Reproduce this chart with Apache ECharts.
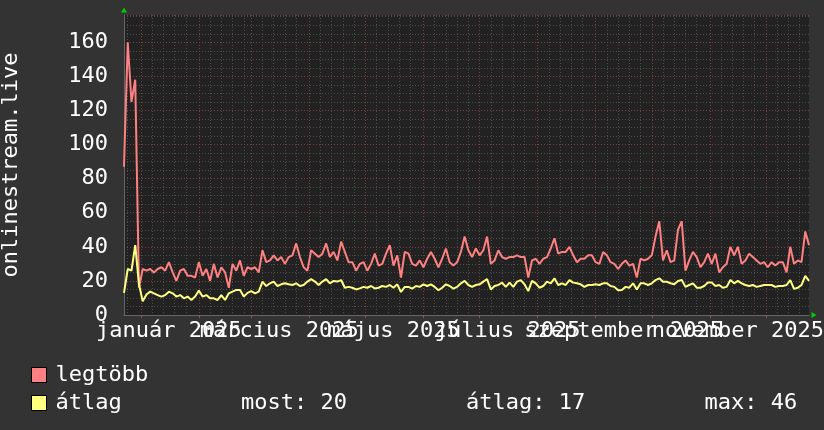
<!DOCTYPE html>
<html><head><meta charset="utf-8">
<script src="https://cdn.jsdelivr.net/npm/echarts@6/dist/echarts.min.js"></script>
<style>html,body{margin:0;padding:0;background:#333333;}#c{width:824px;height:430px;}</style>
</head><body><div id="c"></div>
<script>
// ---- data ----
const firstDay = [2024, 11, 23];   // 2024-12-23 (left edge)
const dayCount = 367;              // through 2025-12-24
const stepDays = 2;                // one reading every 2 days
const monthNames = ['január','február','március','április','május','június','július','augusztus','szeptember','október','november','december'];
const labelMonthsA = [0, 4, 8];    // január, május, szeptember
const labelMonthsB = [2, 6, 10];   // március, július, november
const seriesNames = ['legtöbb', 'átlag'];
const yAxisTitle = 'onlinestream.live';
const yMax = 176;
const yMajorStep = 20;
const yMinorStep = 5;
const minorGridDays = [7, 13, 19, 25];
const statMost = 20, statAtlag = 17, statMax = 46;

const legtobb = [
  87,160,125,138,16,27,26,27,25,27,
  28,26,31,25,20,26,27,23,23,22,
  31,23,27,20,30,22,28,25,16,30,
  26,32,23,28,27,28,25,38,31,32,
  35,32,34,30,34,35,42,34,28,26,
  38,36,34,36,42,34,37,32,43,37,
  31,31,26,30,31,26,30,36,29,30,
  36,41,29,35,22,37,36,30,29,32,
  28,33,37,33,28,33,39,31,29,31,
  37,46,38,34,39,35,38,46,30,32,
  38,34,33,34,34,35,34,34,22,32,
  33,30,33,34,39,45,36,37,37,40,
  35,31,33,33,35,35,31,30,37,35,
  31,30,27,30,32,29,30,22,33,32,
  33,35,46,55,32,38,31,32,50,55,
  26,32,37,34,28,31,36,30,36,25,
  28,30,40,35,40,30,32,36,34,32,
  30,31,28,31,29,31,31,25,40,30,
  32,31,49,41
];
const atlag = [
  13,27,26,41,18,8,12,13.7,12.7,11.7,
  10.8,11.7,13.7,12.7,10.8,11.7,9.8,10.8,8.8,10.8,
  14.3,10.8,11.7,9.8,9.8,8.8,11.7,8.8,12.7,13.7,
  14.7,14.7,10.8,13,14,12.7,13.7,19.6,17,18.6,
  19.6,17,18,18.6,18,17.6,18.6,17,17.6,19.6,
  21,19.6,17.6,19.6,21,18.6,20,19.6,20.5,16,
  16.5,16,15,15.6,16.5,16,17,15.6,16,17,
  16.5,17.6,16,18,13.5,16.5,16.5,15.5,17,16.5,
  18,17,18,16.5,14.5,16,18,17,15.5,16.5,
  18.6,20,17.6,16.5,17.6,18,19.6,21,15,17,
  17.6,19,16.5,19,16.5,19.6,20.5,18,14,20,
  18.6,16,17,19.6,18.6,21.5,17.6,18.6,17.6,20.5,
  19,18.6,18,16.5,17.6,17.6,18,17.6,18.6,18.6,
  17,16.5,14.5,14.7,16.5,16,18.6,15,18.6,18.6,
  17.6,18.6,20.5,21.5,19.5,19.5,18.6,18,20,20.5,
  16.5,17.6,18.6,16,16,17,19,19,17,17.6,
  16,16.5,20.5,18.6,20,18.6,17.6,17,17.6,16.5,
  17,17.6,17.6,17.6,16.5,17,17,17.6,20.5,15.3,
  16,17.6,23,20
];

// ---- build ----
const days = [];
for (let i = 0; i < dayCount; i++) {
  const d = new Date(Date.UTC(firstDay[0], firstDay[1], firstDay[2] + i));
  days.push(d.toISOString().slice(0, 10));
}
const dayOf = v => parseInt(v.slice(8, 10), 10);
const monthOf = v => parseInt(v.slice(5, 7), 10) - 1;
const FONT = 'DejaVu Sans Mono';
const sp = ' '.repeat(9);
const labelStyle = {color: '#ffffff', fontFamily: FONT, fontSize: 22, margin: 5, hideOverlap: false,
                    formatter: v => monthNames[monthOf(v)] + ' ' + v.slice(0, 4)};
const labelAxis = (months, z) => ({
  type: 'category', data: days, boundaryGap: false, position: 'bottom', z: z,
  axisLine: {show: false}, axisTick: {show: false}, splitLine: {show: false},
  axisLabel: Object.assign({}, labelStyle, {interval: (i, v) => dayOf(v) === 16 && months.includes(monthOf(v))})
});

const chart = echarts.init(document.getElementById('c'), null, {renderer: 'canvas'});
chart.setOption({
  animation: false,
  backgroundColor: '#333333',
  grid: {left: 124, right: 15, top: 15, bottom: 115, show: true, backgroundColor: '#222222', borderWidth: 0,
         containLabel: false, outerBoundsMode: 'none'},
  xAxis: [
    {
      type: 'category', data: days, boundaryGap: false, position: 'bottom', z: 1,
      axisLine: {show: true, lineStyle: {color: '#666666', width: 1}},
      axisTick: {show: true, length: 3, interval: (i, v) => dayOf(v) === 1, lineStyle: {color: '#a05050'}},
      axisLabel: {show: false},
      splitLine: {show: true, interval: (i, v) => dayOf(v) === 1, lineStyle: {color: '#7a4040', type: [1, 2]}}
    },
    {
      type: 'category', data: days, boundaryGap: false, position: 'bottom', z: 0,
      axisLine: {show: true, symbol: ['none', 'triangle'], symbolSize: [6, 5], symbolOffset: [0, 5],
                 lineStyle: {color: '#00cc00', width: 0}},
      axisTick: {show: false}, axisLabel: {show: false},
      splitLine: {show: true, interval: (i, v) => minorGridDays.includes(dayOf(v)), lineStyle: {color: '#4c4c4c', type: [1, 2]}}
    },
    labelAxis(labelMonthsA, 2),
    labelAxis(labelMonthsB, 2)
  ],
  yAxis: [
    {
      type: 'value', min: 0, max: yMax, interval: yMajorStep, position: 'left', z: 1,
      name: yAxisTitle, nameLocation: 'middle', nameGap: 102,
      nameTextStyle: {color: '#ffffff', fontFamily: FONT, fontSize: 22},
      axisLine: {show: true, lineStyle: {color: '#666666', width: 1}},
      axisTick: {show: false},
      axisLabel: {color: '#ffffff', fontFamily: FONT, fontSize: 22, margin: 16, showMaxLabel: false},
      splitLine: {show: true, lineStyle: {color: '#7a4040', type: [1, 2]}}
    },
    {
      type: 'value', min: 0, max: yMax, interval: yMinorStep, position: 'left', z: 0,
      axisLine: {show: true, symbol: ['none', 'triangle'], symbolSize: [6, 5], symbolOffset: [0, 5],
                 lineStyle: {color: '#00cc00', width: 0}},
      axisTick: {show: false}, axisLabel: {show: false},
      splitLine: {show: true, lineStyle: {color: '#4c4c4c', type: [1, 2]}}
    }
  ],
  legend: {
    orient: 'vertical', left: 31, top: 364, padding: 0,
    icon: 'rect', itemWidth: 15, itemHeight: 15, itemGap: 6, selectedMode: false,
    itemStyle: {borderColor: '#000000', borderWidth: 1},
    textStyle: {color: '#ffffff', fontFamily: FONT, fontSize: 22, lineHeight: 15, padding: [0, 0, 0, 4]},
    formatter: name => name === seriesNames[1]
      ? name + sp + 'most: ' + statMost + sp + 'átlag: ' + statAtlag + sp + 'max: ' + statMax
      : name,
    data: seriesNames
  },
  series: [
    {name: seriesNames[0], type: 'line', xAxisIndex: 0, yAxisIndex: 0, z: 3,
     data: legtobb.map((v, i) => [i * stepDays, v]), showSymbol: false, symbol: 'none',
     lineStyle: {color: '#ff8080', width: 2}, itemStyle: {color: '#ff8080'}},
    {name: seriesNames[1], type: 'line', xAxisIndex: 0, yAxisIndex: 0, z: 4,
     data: atlag.map((v, i) => [i * stepDays, v]), showSymbol: false, symbol: 'none',
     lineStyle: {color: '#ffff80', width: 2}, itemStyle: {color: '#ffff80'}}
  ]
});
</script></body></html>
